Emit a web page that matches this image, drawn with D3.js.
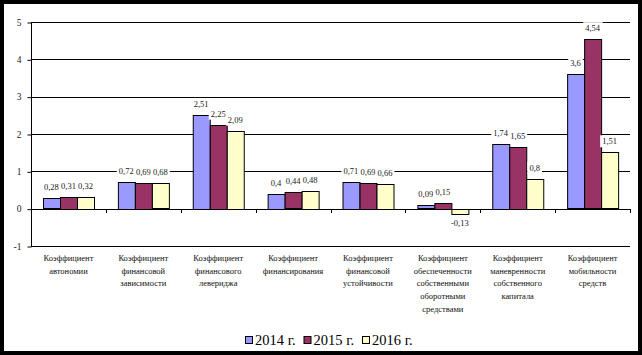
<!DOCTYPE html>
<html><head><meta charset="utf-8">
<script src="https://cdn.jsdelivr.net/npm/d3@7"></script>
<style>body{margin:0;background:#000}svg{display:block}</style></head>
<body><svg id="c" width="642" height="355"></svg>
<script>
const categories = [
  "Коэффициент\nавтономии",
  "Коэффициент\nфинансовой\nзависимости",
  "Коэффициент\nфинансового\nлевериджа",
  "Коэффициент\nфинансирования",
  "Коэффициент\nфинансовой\nустойчивости",
  "Коэффициент\nобеспеченности\nсобственными\nоборотными\nсредствами",
  "Коэффициент\nманевренности\nсобственного\nкапитала",
  "Коэффициент\nмобильности\nсредств"
];
const seriesNames = ["2014 г.", "2015 г.", "2016 г."];
const values2014 = [0.28, 0.72, 2.51, 0.4, 0.71, 0.09, 1.74, 3.6];
const values2015 = [0.31, 0.69, 2.25, 0.44, 0.69, 0.15, 1.65, 4.54];
const values2016 = [0.32, 0.68, 2.09, 0.48, 0.66, -0.13, 0.8, 1.51];
const yTickValues = [-1, 0, 1, 2, 3, 4, 5];
const colors = ["#9999FF", "#993366", "#FFFFCC"];

(function () {
const seriesValues = [values2014, values2015, values2016];
const svg = d3.select("#c");
const W = 642, H = 355;
svg.append("rect").attr("width", W).attr("height", H).attr("fill", "#000");
svg.append("rect").attr("x", 4).attr("y", 4).attr("width", 634).attr("height", 347).attr("fill", "#fff");

const pLeft = 31, pRight = 630, pTop = 22, pBottom = 246;
const serif = "'Liberation Serif','Times New Roman',serif";

const y = d3.scaleLinear().domain([-1, 5]).range([pBottom, pTop]);
const x0 = d3.scaleBand().domain(d3.range(categories.length)).range([pLeft, pRight]).padding(0);
const x1 = d3.scaleBand().domain(d3.range(seriesNames.length)).range([0, x0.bandwidth()]).paddingInner(0).paddingOuter(0.7);

// gridlines
svg.append("g").selectAll("line").data(yTickValues.filter(v => v !== 0)).join("line")
  .attr("x1", pLeft).attr("x2", pRight).attr("y1", d => Math.round(y(d)) + 0.5).attr("y2", d => Math.round(y(d)) + 0.5)
  .attr("stroke", "#000").attr("stroke-width", 1);

// y axis
const yAxis = d3.axisLeft(y).tickValues(yTickValues).tickSize(4).tickPadding(6).tickFormat(d => String(d));
const gy = svg.append("g").attr("transform", `translate(${pLeft + 0.5},0)`).call(yAxis);
gy.select(".domain").attr("stroke", "#000").attr("d", `M0,${pTop}V${pBottom}`);
gy.selectAll(".tick line").attr("stroke", "#000").attr("transform", "translate(0,0.5)");
gy.selectAll(".tick text").attr("font-family", serif).attr("font-size", 9.5).attr("fill", "#222");

// bars
const groups = svg.append("g").selectAll("g").data(categories).join("g")
  .attr("transform", (d, i) => `translate(${x0(i)},0)`);
groups.selectAll("rect").data((d, i) => seriesValues.map((s, k) => ({ k, v: s[i] }))).join("rect")
  .attr("x", d => Math.round(x1(d.k)) + 0.5)
  .attr("width", Math.round(x1.bandwidth()))
  .attr("y", d => Math.round(y(Math.max(0, d.v))) + 0.5)
  .attr("height", d => Math.max(1, Math.round(Math.abs(y(d.v) - y(0)))))
  .attr("fill", d => colors[d.k]).attr("stroke", "#000").attr("stroke-width", 1);

// x axis at 0
const xAxisG = svg.append("g");
xAxisG.append("line").attr("x1", pLeft).attr("x2", pRight).attr("y1", Math.round(y(0)) + 0.5).attr("y2", Math.round(y(0)) + 0.5).attr("stroke", "#000");
xAxisG.selectAll("line.t").data(d3.range(categories.length + 1)).join("line").attr("class", "t")
  .attr("x1", i => Math.round(i < categories.length ? x0(i) : pRight) + 0.5)
  .attr("x2", i => Math.round(i < categories.length ? x0(i) : pRight) + 0.5)
  .attr("y1", Math.round(y(0))).attr("y2", Math.round(y(0)) + 4).attr("stroke", "#000");

// data labels
const labels = groups.selectAll("g.lbl").data((d, i) => seriesValues.map((s, k) => ({ k, v: s[i] }))).join("g").attr("class", "lbl");
labels.each(function (d) {
  const g = d3.select(this);
  const cx = x1(d.k) + x1.bandwidth() / 2;
  const cy = d.v >= 0 ? y(d.v) - 11 : y(d.v) + 9;
  const t = g.append("text").attr("x", cx).attr("y", cy + 3).attr("text-anchor", "middle")
    .attr("font-family", serif).attr("font-size", 8.5).attr("fill", "#222")
    .text(String(d.v).replace(".", ","));
  const bb = t.node().getBBox();
  g.insert("rect", "text").attr("x", bb.x - 2).attr("y", cy - 6).attr("width", bb.width + 4).attr("height", 12).attr("fill", "#fff");
});

// category labels
groups.each(function (d, i) {
  const lines = d.split("\n");
  const t = d3.select(this).append("text").attr("text-anchor", "middle")
    .attr("font-family", serif).attr("font-size", 8.5).attr("fill", "#111");
  lines.forEach((ln, j) => {
    t.append("tspan").attr("x", x0.bandwidth() / 2).attr("y", 261 + j * 12.7).text(ln);
  });
});

// legend
const legend = svg.append("g").attr("transform", "translate(245,0)");
const items = legend.selectAll("g").data(seriesNames).join("g").attr("transform", (d, i) => `translate(${i * 58.5},0)`);
items.append("rect").attr("x", 0.5).attr("y", 336.5).attr("width", 7).attr("height", 7)
  .attr("fill", (d, i) => colors[i]).attr("stroke", "#000");
items.append("text").attr("x", 10).attr("y", 345).attr("font-family", serif).attr("font-size", 14.5).attr("fill", "#000").text(d => d);
})();
</script>
</body></html>
